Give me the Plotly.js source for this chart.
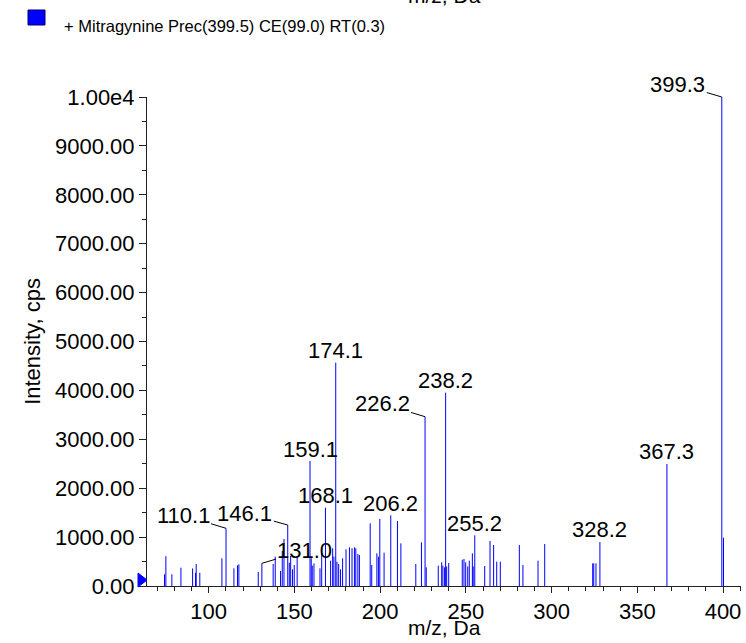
<!DOCTYPE html>
<html><head><meta charset="utf-8">
<script src="https://cdn.plot.ly/plotly-3.0.1.min.js"></script>
<style>html,body{margin:0;padding:0;background:#fff;} #chart{width:746px;height:643px;}</style>
</head><body><div id="chart"></div>
<script>
// ---- data ----
const mz = [74.2,75.0,78.5,83.8,90.6,92.3,92.7,94.8,107.7,110.1,114.7,116.8,117.6,128.9,131.0,
  137.6,138.8,141.9,142.9,143.9,146.1,147.0,147.8,148.9,149.9,151.6,159.1,159.8,160.4,161.4,
  164.9,165.9,168.1,171.1,172.3,173.0,174.1,174.8,175.8,176.9,178.1,180.1,182.1,183.6,185.0,
  185.8,187.0,187.9,194.2,195.1,198.1,199.0,199.8,202.3,206.2,210.1,212.1,220.8,224.1,226.2,
  226.9,233.9,235.9,236.6,237.6,238.2,238.8,240.0,247.9,248.9,249.9,251.1,252.0,253.8,254.3,
  255.2,261.0,264.1,266.2,268.0,270.1,281.2,283.3,292.1,296.0,324.0,324.6,325.9,328.2,367.3,
  399.3,400.3];
const intensity = [240,610,240,375,360,270,450,270,566,1180,361,423,443,286,463,
  450,600,307,716,961,1247,477,613,341,429,600,2556,566,415,463,
  361,668,1602,518,771,600,4567,497,450,341,566,750,791,771,791,
  771,654,634,1282,429,668,600,1370,682,1445,1329,872,450,893,3462,
  382,415,484,415,382,3953,400,470,538,552,484,400,518,668,400,
  1036,409,920,838,497,497,838,429,518,859,463,463,463,900,2495,
  10000,988];
const labelMz   = [110.1,131.0,146.1,159.1,168.1,174.1,206.2,226.2,238.2,255.2,328.2,367.3,399.3];
const labelText = ["110.1","131.0","146.1","159.1","168.1","174.1","206.2","226.2","238.2","255.2","328.2","367.3","399.3"];
const yTickVals = [0,1000,2000,3000,4000,5000,6000,7000,8000,9000,10000];
const yTickText = ["0.00","1000.00","2000.00","3000.00","4000.00","5000.00","6000.00","7000.00","8000.00","9000.00","1.00e4"];
const xTickVals = [100,150,200,250,300,350,400];
const xTickText = ["100","150","200","250","300","350","400"];
const legendText = "+ Mitragynine Prec(399.5) CE(99.0) RT(0.3)";
const xTitle = "m/z, Da";
const yTitle = "Intensity, cps";

// ---- styles ----
const FONT = "Liberation Sans, Arial, Helvetica, sans-serif";
const BLUE = "#0000ff";
const leaderOffsets = { "110.1":[-43,-13], "146.1":[-43,-12], "131.0":[43,-13], "226.2":[-43,-13], "399.3":[-44,-13] };

// stems
const sx = [], sy = [];
mz.forEach((m,i)=>{ sx.push(m,m,null); sy.push(0,intensity[i],null); });

const traces = [{
  type:"scatter", mode:"lines", x:sx, y:sy,
  line:{color:BLUE, width:1}, hoverinfo:"skip", showlegend:false, connectgaps:false
}];

const annotations = labelMz.map((m,k)=>{
  let idx = 0, best = 1e9;
  mz.forEach((v,i)=>{ const d=Math.abs(v-m); if(d<best){best=d; idx=i;} });
  const yv = intensity[idx];
  const t = labelText[k];
  const base = {x:mz[idx], y:yv, xref:"x", yref:"y", text:t, font:{family:FONT,size:22,color:"#000"}};
  if (leaderOffsets[t]) {
    return Object.assign(base,{showarrow:true, arrowhead:0, arrowwidth:1, arrowcolor:"#000",
      ax:leaderOffsets[t][0], ay:leaderOffsets[t][1], standoff:0, startstandoff:0});
  }
  return Object.assign(base,{showarrow:false, xanchor:"center", yanchor:"middle", yshift:12});
});
annotations.push({xref:"paper", yref:"paper", x:0, y:1, xanchor:"left", yanchor:"middle",
  xshift:-85, yshift:71, showarrow:false, text:legendText, font:{family:FONT,size:16.5,color:"#000"}});
// x-axis title, cut-off copy at the top and the real one at the bottom
annotations.push({xref:"paper", yref:"paper", x:0.5, y:1, xanchor:"center", yanchor:"bottom",
  yshift:88, showarrow:false, text:xTitle, font:{family:FONT,size:21,color:"#000"}});
annotations.push({xref:"paper", yref:"paper", x:0.5, y:0, xanchor:"center", yanchor:"middle",
  yshift:-41, showarrow:false, text:xTitle, font:{family:FONT,size:21,color:"#000"}});

const shapes = [
  {type:"rect", xref:"paper", yref:"paper", xsizemode:"pixel", ysizemode:"pixel",
   xanchor:0, yanchor:1, x0:-119, x1:-102, y0:72, y1:87,
   fillcolor:BLUE, line:{color:"#00006a", width:1}},
  {type:"path", xref:"paper", yref:"paper", xsizemode:"pixel", ysizemode:"pixel",
   xanchor:0, yanchor:0, path:"M-9,13L0,6L-9,-1Z", fillcolor:BLUE, line:{color:BLUE, width:1}}
];

const layout = {
  width:746, height:643,
  margin:{l:147, r:5, t:97, b:57, pad:0},
  paper_bgcolor:"#fff", plot_bgcolor:"#fff",
  showlegend:false,
  font:{family:FONT, size:22, color:"#000"},
  xaxis:{range:[64,410.5], showgrid:false, zeroline:false, showline:true, linecolor:"#222", linewidth:1,
    ticks:"outside", ticklen:6, tickcolor:"#222", tickvals:xTickVals, ticktext:xTickText,
    tickfont:{family:FONT,size:22,color:"#000"},
    minor:{dtick:10, tick0:0, ticks:"outside", ticklen:4, tickcolor:"#222", showgrid:false}},
  yaxis:{range:[0,10000], showgrid:false, zeroline:false, showline:true, linecolor:"#222", linewidth:1,
    ticks:"outside", ticklen:7, tickcolor:"#222", tickvals:yTickVals, ticktext:yTickText,
    tickfont:{family:FONT,size:22,color:"#000"},
    minor:{dtick:500, tick0:0, ticks:"outside", ticklen:4, tickcolor:"#222", showgrid:false},
    title:{text:yTitle, font:{family:FONT,size:22,color:"#000"}, standoff:8}},
  annotations:annotations, shapes:shapes
};
Plotly.newPlot("chart", traces, layout, {displayModeBar:false, staticPlot:true});
</script></body></html>
